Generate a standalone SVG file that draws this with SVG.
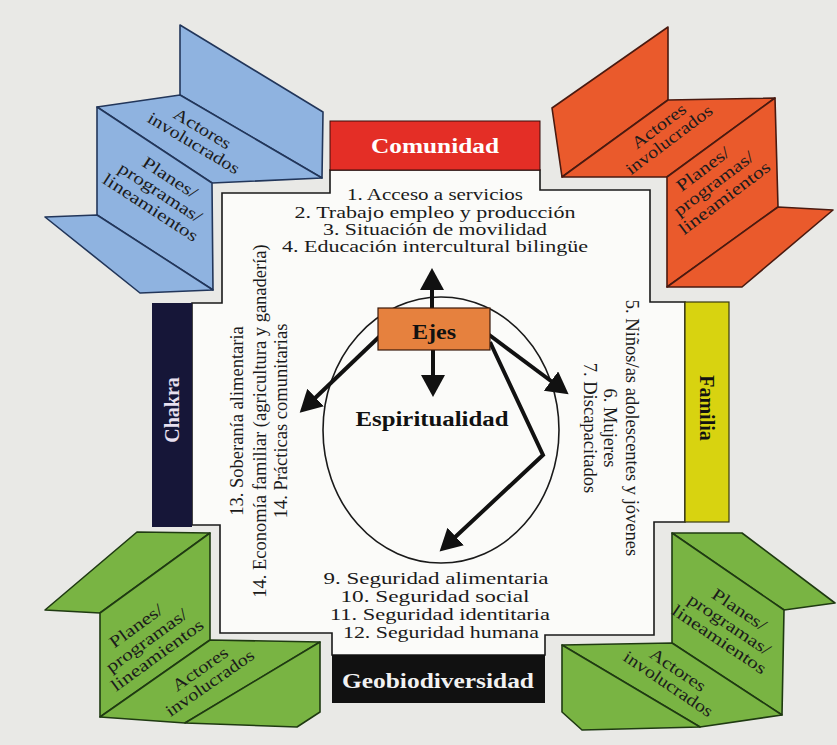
<svg xmlns="http://www.w3.org/2000/svg" width="837" height="745" viewBox="0 0 837 745">
<defs>
<style>
.bg{fill:#e9e9e6}
.frame{fill:#fbfbf9;stroke:#1a1a1a;stroke-width:1.6}
.blue path{fill:#8fb3e0;stroke:#22365a;stroke-width:1.6;stroke-linejoin:round}
.red path{fill:#ea5a2c;stroke:#4a1a10;stroke-width:1.6;stroke-linejoin:round}
.green path{fill:#79b443;stroke:#1f3a12;stroke-width:1.6;stroke-linejoin:round}
.ptxt{font-family:"Liberation Serif","Times New Roman",serif;font-size:17px;fill:#1c1c1c;text-anchor:middle}
.list{font-family:"Liberation Serif","Times New Roman",serif;font-size:16px;fill:#1a1a1a;text-anchor:middle}
.vlist{font-family:"Liberation Serif","Times New Roman",serif;font-size:18.5px;fill:#1a1a1a;text-anchor:middle}
.lbl{font-family:"Liberation Serif","Times New Roman",serif;font-size:20px;font-weight:bold;text-anchor:middle}
.arrow{fill:none;stroke:#111;stroke-width:4;stroke-linejoin:miter;marker-end:url(#ah)}
</style>
<marker id="ah" markerUnits="userSpaceOnUse" markerWidth="24" markerHeight="26" refX="5" refY="12" orient="auto">
<path d="M0,0 L22,12 L0,24 Z" fill="#111"/>
</marker>
</defs>

<rect class="bg" x="0" y="0" width="837" height="745"/>

<g id="frame">
<polygon class="frame" points="330,170 330,193 222,193 222,303 192,303 192,525 220,525 220,633 332,633 332,655 545,655 545,635 654,635 654,522 685,522 685,302 650,302 650,190 540,190 540,170"/>
</g>

<g id="node-actores-top-left" class="blue">
<path d="M180,25 L323,112 L322,178 L180,95 Z"/>
<path d="M180,95 L322,178 L212,183 L97,107 Z"/>
<path d="M97,107 L212,183 L213,290 L97,215 Z"/>
<path d="M97,215 L213,290 L140,293 L45,217 Z"/>
<g transform="translate(198,136) rotate(31)">
<text class="ptxt" x="0" y="-3" textLength="64" lengthAdjust="spacingAndGlyphs">Actores</text>
<text class="ptxt" x="0" y="14" textLength="104" lengthAdjust="spacingAndGlyphs">involucrados</text>
</g>
<g transform="translate(160,193) rotate(33)">
<text class="ptxt" x="0" y="-13" textLength="62" lengthAdjust="spacingAndGlyphs">Planes/</text>
<text class="ptxt" x="0" y="5" textLength="96" lengthAdjust="spacingAndGlyphs">programas/</text>
<text class="ptxt" x="0" y="23" textLength="110" lengthAdjust="spacingAndGlyphs">lineamientos</text>
</g>
</g>

<g id="node-actores-top-right" class="red">
<path d="M668,27 L552,108 L562,177 L668,100 Z"/>
<path d="M668,100 L562,177 L667,177 L775,98 Z"/>
<path d="M775,98 L667,177 L667,287 L778,207 Z"/>
<path d="M778,207 L667,287 L742,287 L833,210 Z"/>
<g transform="translate(664,133) rotate(-37)">
<text class="ptxt" x="0" y="-3" textLength="64" lengthAdjust="spacingAndGlyphs">Actores</text>
<text class="ptxt" x="0" y="14" textLength="104" lengthAdjust="spacingAndGlyphs">involucrados</text>
</g>
<g transform="translate(714,184) rotate(-37)">
<text class="ptxt" x="0" y="-13" textLength="62" lengthAdjust="spacingAndGlyphs">Planes/</text>
<text class="ptxt" x="0" y="5" textLength="96" lengthAdjust="spacingAndGlyphs">programas/</text>
<text class="ptxt" x="0" y="23" textLength="110" lengthAdjust="spacingAndGlyphs">lineamientos</text>
</g>
</g>

<g id="node-actores-bottom-left" class="green">
<path d="M137,532 L210,533 L100,613 L45,610 Z"/>
<path d="M100,613 L210,533 L210,640 L100,717 Z"/>
<path d="M100,717 L210,640 L320,642 L185,723 Z"/>
<path d="M185,723 L320,642 L320,712 L297,727 Z"/>
<g transform="translate(147,641) rotate(-36)">
<text class="ptxt" x="0" y="-13" textLength="62" lengthAdjust="spacingAndGlyphs">Planes/</text>
<text class="ptxt" x="0" y="5" textLength="96" lengthAdjust="spacingAndGlyphs">programas/</text>
<text class="ptxt" x="0" y="23" textLength="110" lengthAdjust="spacingAndGlyphs">lineamientos</text>
</g>
<g transform="translate(205,676) rotate(-35)">
<text class="ptxt" x="0" y="-3" textLength="64" lengthAdjust="spacingAndGlyphs">Actores</text>
<text class="ptxt" x="0" y="14" textLength="104" lengthAdjust="spacingAndGlyphs">involucrados</text>
</g>
</g>

<g id="node-actores-bottom-right" class="green">
<path d="M672,533 L742,533 L835,603 L784,610 Z"/>
<path d="M672,533 L784,610 L782,715 L672,643 Z"/>
<path d="M672,643 L782,715 L700,727 L562,645 Z"/>
<path d="M562,645 L700,727 L582,730 L562,712 Z"/>
<g transform="translate(729,625) rotate(34)">
<text class="ptxt" x="0" y="-13" textLength="62" lengthAdjust="spacingAndGlyphs">Planes/</text>
<text class="ptxt" x="0" y="5" textLength="96" lengthAdjust="spacingAndGlyphs">programas/</text>
<text class="ptxt" x="0" y="23" textLength="110" lengthAdjust="spacingAndGlyphs">lineamientos</text>
</g>
<g transform="translate(673,677) rotate(34)">
<text class="ptxt" x="0" y="-3" textLength="64" lengthAdjust="spacingAndGlyphs">Actores</text>
<text class="ptxt" x="0" y="14" textLength="104" lengthAdjust="spacingAndGlyphs">involucrados</text>
</g>
</g>

<g id="node-comunidad">
<rect x="330" y="121" width="210" height="49" fill="#e42e26" stroke="#3a0d0a" stroke-width="1"/>
<text class="lbl" x="435" y="153" fill="#ffffff" textLength="128" lengthAdjust="spacingAndGlyphs">Comunidad</text>
</g>
<g id="node-chakra">
<rect x="152" y="303" width="40" height="224" fill="#161638"/>
<text class="lbl" transform="translate(179,410) rotate(-90)" fill="#e8e0f0">Chakra</text>
</g>
<g id="node-familia">
<rect x="685" y="302" width="44" height="220" fill="#d8d310" stroke="#3a3a10" stroke-width="1.2"/>
<text class="lbl" transform="translate(700,408) rotate(90)" fill="#111">Familia</text>
</g>
<g id="node-geobiodiversidad">
<rect x="332" y="655" width="213" height="48" fill="#111111"/>
<text class="lbl" x="438" y="688" fill="#f2f2f2" textLength="192" lengthAdjust="spacingAndGlyphs">Geobiodiversidad</text>
</g>

<g id="list-comunidad">
<text class="list" x="435" y="200" textLength="176" lengthAdjust="spacingAndGlyphs">1. Acceso a servicios</text>
<text class="list" x="435" y="218" textLength="281" lengthAdjust="spacingAndGlyphs">2. Trabajo empleo y producción</text>
<text class="list" x="435" y="235" textLength="224" lengthAdjust="spacingAndGlyphs">3. Situación de movilidad</text>
<text class="list" x="435" y="252" textLength="306" lengthAdjust="spacingAndGlyphs">4. Educación intercultural bilingüe</text>
</g>
<g id="list-familia">
<text class="vlist" transform="translate(626,428) rotate(90)">5. Niños/as adolescentes y jóvenes</text>
<text class="vlist" transform="translate(604,428) rotate(90)">6. Mujeres</text>
<text class="vlist" transform="translate(584,428) rotate(90)">7. Discapacitados</text>
</g>
<g id="list-geobiodiversidad">
<text class="list" x="436" y="584" textLength="225" lengthAdjust="spacingAndGlyphs">9. Seguridad alimentaria</text>
<text class="list" x="435" y="602" textLength="189" lengthAdjust="spacingAndGlyphs">10. Seguridad social</text>
<text class="list" x="440" y="620" textLength="220" lengthAdjust="spacingAndGlyphs">11. Seguridad identitaria</text>
<text class="list" x="441" y="638" textLength="196" lengthAdjust="spacingAndGlyphs">12. Seguridad humana</text>
</g>
<g id="list-chakra">
<text class="vlist" transform="translate(243,421) rotate(-90)">13. Soberanía alimentaria</text>
<text class="vlist" transform="translate(266,421) rotate(-90)">14. Economía familiar (agricultura y ganadería)</text>
<text class="vlist" transform="translate(287,421) rotate(-90)">14. Prácticas comunitarias</text>
</g>

<g id="node-espiritualidad">
<ellipse cx="441" cy="430" rx="118" ry="133" fill="none" stroke="#1a1a1a" stroke-width="1.6"/>
<text class="lbl" x="432" y="426" fill="#111" textLength="153" lengthAdjust="spacingAndGlyphs">Espiritualidad</text>
</g>

<g id="connectors">
<path class="arrow" d="M432,310 L432,285"/>
<path class="arrow" d="M433,348 L433,380"/>
<path class="arrow" d="M380,336 L312,401"/>
<path class="arrow" d="M488,334 L555,384"/>
<path class="arrow" d="M490,342 L543,455 L452,540"/>
</g>

<g id="node-ejes">
<rect x="378" y="308" width="112" height="42" fill="#e6813e" stroke="#3a1a0a" stroke-width="1.2"/>
<text class="lbl" x="434" y="339" fill="#111" textLength="44" lengthAdjust="spacingAndGlyphs">Ejes</text>
</g>
</svg>
